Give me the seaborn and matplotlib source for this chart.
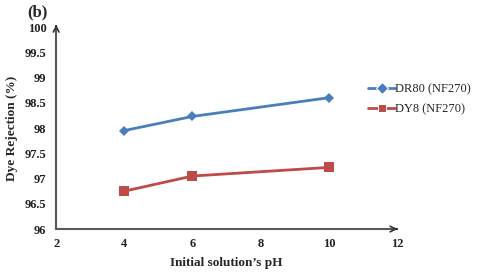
import matplotlib
matplotlib.use("Agg")
import matplotlib.pyplot as plt
import seaborn as sns
import pandas as pd

ph = [4, 6, 10]
dr80 = [97.95, 98.23, 98.6]
dy8 = [96.75, 97.05, 97.22]
series_names = ["DR80 (NF270)", "DY8 (NF270)"]
xticks = [2, 4, 6, 8, 10, 12]
yticks = [96, 96.5, 97, 97.5, 98, 98.5, 99, 99.5, 100]

df = pd.DataFrame({
    "pH": ph * 2,
    "rej": dr80 + dy8,
    "series": [series_names[0]] * 3 + [series_names[1]] * 3,
})

sns.set_style("white")
plt.rcParams["font.family"] = ["Liberation Serif", "DejaVu Serif"]
plt.rcParams["font.weight"] = "bold"

fig = plt.figure(figsize=(4.8, 2.73), dpi=100)
ax = fig.add_axes([0.117, 0.161, 0.71, 0.74])

sns.lineplot(data=df, x="pH", y="rej", hue="series", style="series",
             palette=["#4a7ebb", "#be4b48"], markers={series_names[0]: "D", series_names[1]: "s"},
             dashes=False, markersize=6, linewidth=2, ax=ax, legend=True)
for line, ms in zip(ax.lines, [5, 7]):
    line.set_markersize(ms)
    line.set_markeredgewidth(0)

ax.set_xlim(2, 12)
ax.set_ylim(96, 100)
ax.set_xticks(xticks)
ax.set_xticklabels([str(t) for t in xticks])
ax.set_yticks(yticks)
ax.set_yticklabels([("%g" % t) for t in yticks])
ax.tick_params(axis="both", labelsize=9, colors="#222222", width=1, length=3)
ax.tick_params(axis="x", direction="inout", pad=5)
ax.tick_params(axis="y", direction="out", pad=4)
for lab in ax.get_xticklabels() + ax.get_yticklabels():
    lab.set_fontweight("bold")

for s in ["top", "right"]:
    ax.spines[s].set_visible(False)
for s in ["left", "bottom"]:
    ax.spines[s].set_color("#595959")
    ax.spines[s].set_linewidth(1.5)

ax.annotate("", xy=(1.01, 0), xytext=(0.99, 0), xycoords="axes fraction",
            arrowprops=dict(arrowstyle="->", color="#333333", lw=1.2), annotation_clip=False)
ax.annotate("", xy=(0, 1.012), xytext=(0, 0.99), xycoords="axes fraction",
            arrowprops=dict(arrowstyle="->", color="#333333", lw=1.2), annotation_clip=False)

ax.set_xlabel("Initial solution\u2019s pH", fontsize=9.5, fontweight="bold", labelpad=5)
ax.set_ylabel("Dye Rejection (%)", fontsize=9.5, fontweight="bold", labelpad=5)

leg = ax.legend(loc="upper left", bbox_to_anchor=(0.915, 0.72), frameon=False,
                fontsize=9, handlelength=2.2, handletextpad=0.0, labelspacing=0.6,
                borderaxespad=0, borderpad=0)
for t in leg.get_texts():
    t.set_fontweight("normal")

fig.text(0.056, 0.955, "(b)", fontsize=12, fontweight="bold", va="center")

fig.savefig("out.png", dpi=100, facecolor="white")
